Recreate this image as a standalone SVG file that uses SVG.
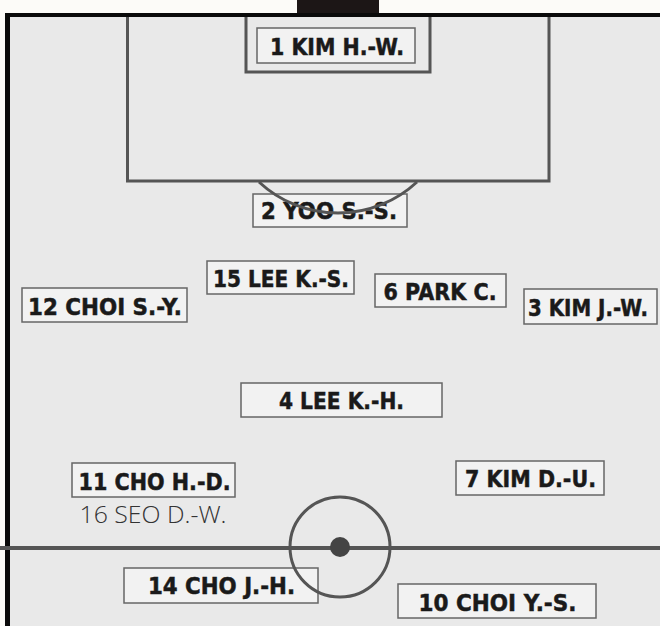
<svg xmlns="http://www.w3.org/2000/svg" width="660" height="626" viewBox="0 0 660 626">
  <style>
    .box { fill: #f2f2f2; stroke: #666; stroke-width: 1.5; }
    .lbl { font-family: "DejaVu Sans", "Liberation Sans", sans-serif; font-weight: bold; font-size: 23px; fill: #1a1a1a; stroke: #1a1a1a; stroke-width: 0.5; text-anchor: middle; }
    .sub { font-family: "Open Sans", "Liberation Sans", sans-serif; font-weight: 300; font-size: 23px; fill: #333; text-anchor: middle; }
    .line { fill: none; stroke: #555; stroke-width: 3; }
  </style>
  <rect x="0" y="0" width="660" height="626" fill="#fcfbf8"/>
  <rect x="5" y="13" width="655" height="613" fill="#e9e9e9"/>

  <g id="field">
    <rect x="297" y="0" width="82" height="14" fill="#1c1616"/>
    <rect x="5" y="13" width="655" height="4" fill="#0a0a0a"/>
    <rect x="5" y="13" width="5" height="613" fill="#0a0a0a"/>
    <path class="line" d="M127.5,17 V181 H549 V17"/>
    <path class="line" d="M246,17 V72 H430 V17"/>
    <rect x="0" y="546" width="660" height="4" fill="#555"/>
  </g>

  <g id="p1"><rect class="box" x="257" y="28" width="158" height="35"/><text class="lbl" x="337" y="55" font-size="24" textLength="134" lengthAdjust="spacingAndGlyphs">1 KIM H.-W.</text></g>
  <g id="p2"><rect class="box" x="253" y="194" width="154" height="33"/><text class="lbl" x="329" y="219" textLength="136" lengthAdjust="spacingAndGlyphs">2 YOO S.-S.</text></g>
  <g id="p15"><rect class="box" x="207" y="261" width="147" height="33"/><text class="lbl" x="281" y="287" textLength="136" lengthAdjust="spacingAndGlyphs">15 LEE K.-S.</text></g>
  <g id="p6"><rect class="box" x="375" y="274" width="131" height="33"/><text class="lbl" x="440" y="300" textLength="113" lengthAdjust="spacingAndGlyphs">6 PARK C.</text></g>
  <g id="p12"><rect class="box" x="22" y="288" width="165" height="34"/><text class="lbl" x="105" y="315" textLength="154" lengthAdjust="spacingAndGlyphs">12 CHOI S.-Y.</text></g>
  <g id="p3"><rect class="box" x="524" y="289" width="133" height="35"/><text class="lbl" x="588" y="316" font-size="21" textLength="120" lengthAdjust="spacingAndGlyphs">3 KIM J.-W.</text></g>
  <g id="p4"><rect class="box" x="241" y="383" width="201" height="34"/><text class="lbl" x="341.5" y="409" textLength="125" lengthAdjust="spacingAndGlyphs">4 LEE K.-H.</text></g>
  <g id="p11"><rect class="box" x="72" y="463" width="163" height="34"/><text class="lbl" x="154.5" y="490" textLength="152" lengthAdjust="spacingAndGlyphs">11 CHO H.-D.</text></g>
  <g id="p16"><text class="sub" x="153" y="523" textLength="147" lengthAdjust="spacingAndGlyphs">16 SEO D.-W.</text></g>
  <g id="p7"><rect class="box" x="456" y="461" width="148" height="34"/><text class="lbl" x="530.5" y="487" textLength="131" lengthAdjust="spacingAndGlyphs">7 KIM D.-U.</text></g>
  <g id="p14"><rect class="box" x="124" y="568" width="194" height="35"/><text class="lbl" x="221.5" y="594" textLength="147" lengthAdjust="spacingAndGlyphs">14 CHO J.-H.</text></g>
  <g id="p10"><rect class="box" x="398" y="584" width="198" height="34"/><text class="lbl" x="497.5" y="611" textLength="158" lengthAdjust="spacingAndGlyphs">10 CHOI Y.-S.</text></g>

  <g id="connectors">
    <path class="line" d="M259,182 A116,116 0 0 0 417,182"/>
    <circle class="line" cx="340" cy="547" r="50" stroke-width="4"/>
    <circle cx="340" cy="547" r="10" fill="#444"/>
  </g>
</svg>
